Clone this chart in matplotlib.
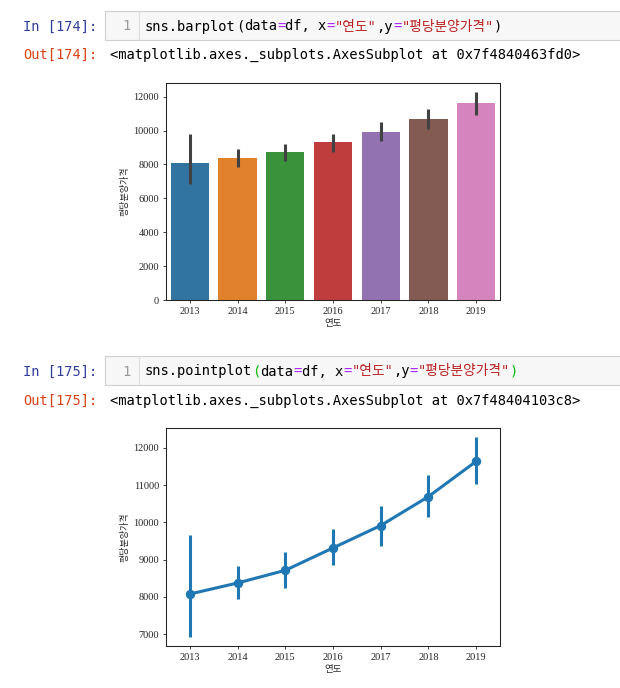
import numpy as np
import matplotlib
matplotlib.use("Agg")
import matplotlib.pyplot as plt
from matplotlib.patches import Rectangle

# 연도별 평당분양가격 (평균과 부트스트랩 신뢰구간, 그림에서 읽은 값)
years = ["2013", "2014", "2015", "2016", "2017", "2018", "2019"]
mean_price = [8080, 8375, 8715, 9315, 9915, 10690, 11635]
bar_ci_low = [6820, 7860, 8210, 8750, 9400, 10110, 10935]
bar_ci_high = [9775, 8905, 9185, 9795, 10485, 11255, 12280]
pt_ci_low = [6920, 7935, 8250, 8865, 9375, 10150, 11020]
pt_ci_high = [9660, 8830, 9200, 9820, 10440, 11260, 12295]

bar_colors = ["#3274a1", "#e1812c", "#3a923a", "#c03d3e", "#9372b2", "#845b53", "#d684bd"]

W, H = 620, 688
fig = plt.figure(figsize=(W / 100, H / 100), dpi=100)
rend = fig.canvas.get_renderer()

MONO = ["DejaVu Sans Mono", "Noto Sans CJK KR"]
PLOT_FONT = ["Liberation Serif", "Noto Sans CJK KR"]
CODE_PT = 9.9

BLACK = "#000000"
OP = "#aa22ff"
STR = "#ba2121"
MATCH = "#00bb00"


def put(x, y, s, color, ha="left"):
    return fig.text(x / W, 1 - y / H, s, color=color, fontsize=CODE_PT, family=MONO,
                    va="baseline", ha=ha)


def measured(s):
    t = put(0, 0, s, BLACK)
    w = t.get_window_extent(rend).width
    t.remove()
    return w


def code_line(x, y, parts):
    # 앞쪽 문자열의 실제 렌더링 폭으로 각 색 조각의 위치를 잡음
    done = ""
    for s, c in parts:
        off = measured(done + "s") - measured("s") if done else 0
        put(x + off, y, s, c)
        done += s


def cell(top, bottom, n, parts, out_y, out_text):
    fig.patches.append(Rectangle((105 / W, 1 - bottom / H), (W - 105 + 5) / W, (bottom - top) / H,
                                 transform=fig.transFigure, facecolor="#f7f7f7",
                                 edgecolor="#cfcfcf", lw=0.8))
    fig.lines.append(plt.Line2D([139 / W, 139 / W], [1 - top / H, 1 - bottom / H],
                                transform=fig.transFigure, color="#dddddd", lw=0.8))
    base = (top + bottom) / 2 + 5
    put(23, base, "In [%d]:" % n, "#303f9f")
    put(126, base, "1", "#999999", ha="center")
    code_line(145, base, parts)
    put(23, out_y + 5, "Out[%d]:" % n, "#d84315")
    put(110, out_y + 5, out_text, BLACK)


cell(11, 40, 174,
     [("sns.barplot", BLACK), ("(", BLACK), ("data", BLACK), ("=", OP), ("df, x", BLACK),
      ("=", OP), ('"연도"', STR), (",y", BLACK), ("=", OP), ('"평당분양가격"', STR), (")", BLACK)],
     54, "<matplotlib.axes._subplots.AxesSubplot at 0x7f4840463fd0>")
cell(356, 385, 175,
     [("sns.pointplot", BLACK), ("(", MATCH), ("data", BLACK), ("=", OP), ("df, x", BLACK),
      ("=", OP), ('"연도"', STR), (",y", BLACK), ("=", OP), ('"평당분양가격"', STR), (")", MATCH)],
     400, "<matplotlib.axes._subplots.AxesSubplot at 0x7f48404103c8>")


def style(ax):
    x = np.arange(len(years))
    ax.set_xticks(x)
    ax.set_xticklabels(years, family=PLOT_FONT)
    ax.set_xlim(-0.5, len(years) - 0.5)
    ax.tick_params(labelsize=7.5, length=2.5, width=0.6, pad=2.5, colors="#262626",
                   labelcolor="#262626")
    for lab in ax.get_yticklabels():
        lab.set_family(PLOT_FONT)
    for sp in ax.spines.values():
        sp.set_linewidth(0.75)
        sp.set_color("#222222")
    ax.set_xlabel("연도", family=PLOT_FONT, fontsize=6.8, color="#262626", labelpad=2)
    ax.set_ylabel("평당분양가격", family=PLOT_FONT, fontsize=6.5, color="#262626", labelpad=3)


x = np.arange(len(years))

ax1 = fig.add_axes([166 / W, 1 - 300 / H, 334 / W, 217 / H])
ax1.bar(x, mean_price, width=0.8, color=bar_colors)
ax1.vlines(x, bar_ci_low, bar_ci_high, color=".26", lw=2.2)
ax1.set_ylim(0, 12810)
ax1.set_yticks(np.arange(0, 12001, 2000))
style(ax1)

ax2 = fig.add_axes([166 / W, 1 - 646 / H, 334 / W, 218 / H])
ax2.vlines(x, pt_ci_low, pt_ci_high, color="#1f77b4", lw=2.2)
ax2.plot(x, mean_price, color="#1f77b4", lw=2.2, marker="o", ms=5.8)
ax2.set_ylim(6687, 12528)
ax2.set_yticks(np.arange(7000, 12001, 1000))
style(ax2)

fig.savefig("out.png", dpi=100, facecolor="white")
